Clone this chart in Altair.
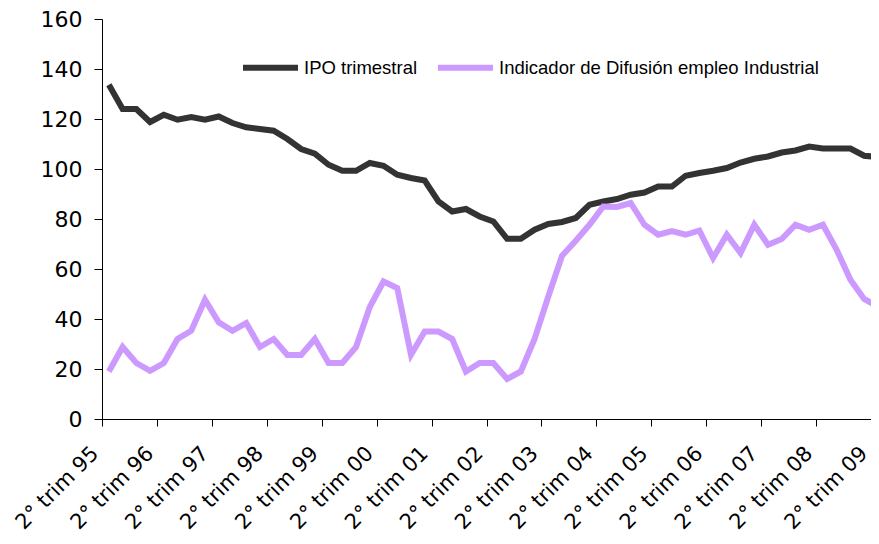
import json
import altair as alt
import pandas as pd

series_names = ["IPO trimestral", "Indicador de Difusión empleo Industrial"]

ipo = [133.7, 124, 124, 118.8, 121.7, 119.7, 120.8, 119.7, 121, 118.4,
       116.7, 116, 115.3, 112, 108, 106.1, 101.7, 99.3, 99.3, 102.4,
       101.3, 97.7, 96.4, 95.4, 87, 83, 84, 81, 79, 72.1,
       72.1, 75.7, 78, 78.8, 80.4, 85.7, 87, 88, 89.7, 90.6,
       93, 93, 97.3, 98.4, 99.3, 100.4, 102.6, 104.1, 105, 106.6,
       107.4, 109, 108.2, 108.2, 108.2, 105.3, 104.8]

difusion = [19, 28.8, 22.4, 19.3, 22.4, 32, 35.3, 47.7, 38.7, 35.3,
            38.4, 28.8, 32, 25.6, 25.6, 32, 22.4, 22.4, 28.8, 44.8,
            55, 52.4, 25.7, 35, 35, 32, 19, 22.4, 22.4, 16,
            19, 32, 49, 65.3, 71.3, 77.7, 85, 84.8, 86.4, 77.7,
            73.7, 75.2, 73.7, 75.4, 64.4, 73.7, 66.4, 77.7, 69.7, 72,
            77.7, 75.7, 77.7, 67.7, 55.7, 48, 45]

tick_labels = ["2° trim 95", "2° trim 96", "2° trim 97", "2° trim 98",
               "2° trim 99", "2° trim 00", "2° trim 01", "2° trim 02",
               "2° trim 03", "2° trim 04", "2° trim 05", "2° trim 06",
               "2° trim 07", "2° trim 08", "2° trim 09"]

rows = []
for i, v in enumerate(ipo):
    rows.append({"t": i, "valor": v, "serie": series_names[0], "ord": 0})
for i, v in enumerate(difusion):
    rows.append({"t": i, "valor": v, "serie": series_names[1], "ord": 1})
df = pd.DataFrame(rows)

tick_vals = [-0.5 + 4 * k for k in range(len(tick_labels))]
label_expr = json.dumps(tick_labels, ensure_ascii=False) + "[round((datum.value + 0.5) / 4)]"

chart = alt.Chart(df).mark_line(strokeWidth=6, clip=True).encode(
    x=alt.X("t:Q",
            scale=alt.Scale(domain=[-0.5, 55.5], nice=False, zero=False),
            axis=alt.Axis(values=tick_vals, labelExpr=label_expr, title=None,
                          labelAngle=-45, labelAlign="right", labelBaseline="middle",
                          labelPadding=24, labelOffset=-7, tickSize=7, grid=False,
                          labelFontSize=21,
                          labelFlush=False, labelOverlap=False)),
    y=alt.Y("valor:Q",
            scale=alt.Scale(domain=[0, 160], nice=False),
            axis=alt.Axis(values=list(range(0, 161, 20)), title=None, tickSize=8,
                          labelPadding=12, grid=False)),
    color=alt.Color("serie:N",
                    scale=alt.Scale(domain=series_names, range=["#333333", "#CC99FF"]),
                    legend=alt.Legend(orient="none", legendX=138, legendY=18,
                                      direction="horizontal", title=None,
                                      symbolType="stroke", symbolSize=3025,
                                      symbolStrokeWidth=6, labelFont="Liberation Sans",
                                      labelFontSize=18.5, labelColor="#000000",
                                      labelOffset=3, columnPadding=8, labelLimit=600)),
    order=alt.Order("t:Q"),
    detail="ord:N",
).properties(
    width=769, height=400,
    autosize=alt.AutoSizeParams(type="none"),
    padding={"left": 94, "top": 11, "right": 0, "bottom": 117},
).configure_axis(
    labelFont="DejaVu Sans", labelFontSize=22, labelColor="#000000",
    domainColor="#000000", tickColor="#000000", domainWidth=1, tickWidth=1,
).configure_view(stroke=None)

chart.save("out.html", embed_options={"renderer": "svg", "actions": False})
